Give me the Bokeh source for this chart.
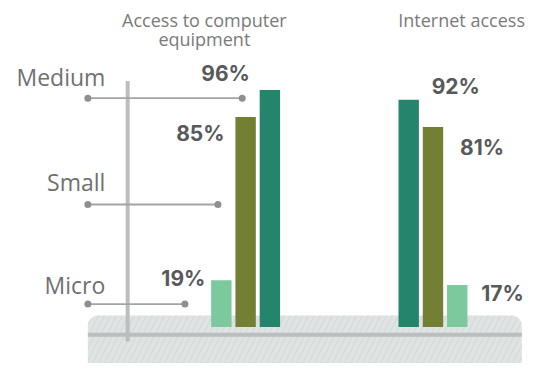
from bokeh.plotting import figure
from bokeh.models import Range1d, ColumnDataSource
from bokeh.core.properties import value
from bokeh.embed import file_html
from bokeh.resources import INLINE

# ---- data ----
sizes = ["Micro", "Small", "Medium"]
computer = [19, 85, 96]
internet = [17, 81, 92]
group_titles = ["Access to computer", "equipment", "Internet access"]
size_line_ends = [190, 224, 249]   # decorative line lengths (ref px) for Micro, Small, Medium

# ---- layout constants ----
W, H = 531, 363          # figure size (fits window with 8px margin)
RW, RH = 547, 379        # reference-pixel coordinate space mapped onto the frame
BASE_PX = 341
PX_PER_PCT = 2.58
TXT_DY = -8
TEAL, OLIVE, LIGHT = "#25846C", "#737F32", "#7BC99C"
colors = {"Micro": LIGHT, "Small": OLIVE, "Medium": TEAL}

p = figure(width=W, height=H, output_backend="svg", toolbar_location=None,
           x_range=Range1d(0, RW),
           y_range=Range1d(-(RH - BASE_PX) / PX_PER_PCT, BASE_PX / PX_PER_PCT),
           x_axis_location=None, y_axis_location=None, min_border=0)
p.grid.visible = False
p.outline_line_color = None
p.background_fill_color = "white"
p.border_fill_color = "white"
p.extra_y_ranges = {"px": Range1d(RH, 0)}

# base plate
p.quad(left=[90], right=[537], top=[329], bottom=[392], y_range_name="px",
       fill_color="#E2E2E2", line_color=None, border_radius=10,
       hatch_pattern="/", hatch_color="#a9d8d0", hatch_alpha=0.55,
       hatch_scale=12, hatch_weight=1)
p.segment(x0=[90], x1=[537], y0=[349], y1=[349], y_range_name="px",
          line_color="#BCBDBF", line_width=4)
p.segment(x0=[131], x1=[131], y0=[84], y1=[356], y_range_name="px",
          line_color="#BCBDBF", line_width=4)

# size lines with dots
line_y = [317, 213, 102]
p.segment(x0=[90] * 3, x1=size_line_ends, y0=line_y, y1=line_y, y_range_name="px",
          line_color="#A3A4A8", line_width=1.8)
p.scatter(x=[90] * 3 + size_line_ends, y=line_y + line_y, y_range_name="px",
          size=7, fill_color="#8E8F93", line_color=None)

# size labels
p.text(x=[108] * 3, y=[305 + TXT_DY, 198 + TXT_DY, 88 + TXT_DY], text=sizes, y_range_name="px",
       text_align="right", text_baseline="alphabetic",
       text_font=value("Open Sans"), text_font_size="23px", text_color="#707070")

# group titles
p.text(x=[210, 210, 475], y=[28 + TXT_DY, 48 + TXT_DY, 28 + TXT_DY], text=group_titles,
       y_range_name="px", text_align="center", text_baseline="alphabetic",
       text_font=value("Open Sans"), text_font_size="18px", text_color="#7a7a7a")

# bars
LEFT_C, RIGHT_C, STEP, BW = 252.5, 445.5, 25, 21
left_x = [LEFT_C - STEP, LEFT_C, LEFT_C + STEP]
right_x = [RIGHT_C + STEP, RIGHT_C, RIGHT_C - STEP]
src_l = ColumnDataSource(dict(x=left_x, top=computer, color=[colors[s] for s in sizes],
                              label=[f"{v}%" for v in computer],
                              xo=[-16, -21, -20], yo=[6 + TXT_DY, 24 + TXT_DY, -8 + TXT_DY]))
src_r = ColumnDataSource(dict(x=right_x, top=internet, color=[colors[s] for s in sizes],
                              label=[f"{v}%" for v in internet],
                              xo=[24, 27, 23], yo=[16 + TXT_DY, 29 + TXT_DY, -5 + TXT_DY]))
for src, align in ((src_l, "right"), (src_r, "left")):
    p.vbar(x="x", top="top", bottom=0, width=BW, fill_color="color", line_color=None, source=src)
    p.text(x="x", y="top", text="label", x_offset="xo", y_offset="yo", source=src,
           text_align=align, text_baseline="alphabetic",
           text_font=value("Inter"), text_font_style="bold", text_font_size="21px",
           text_color="#58595B")

open("out.html", "w").write(file_html(p, INLINE))
